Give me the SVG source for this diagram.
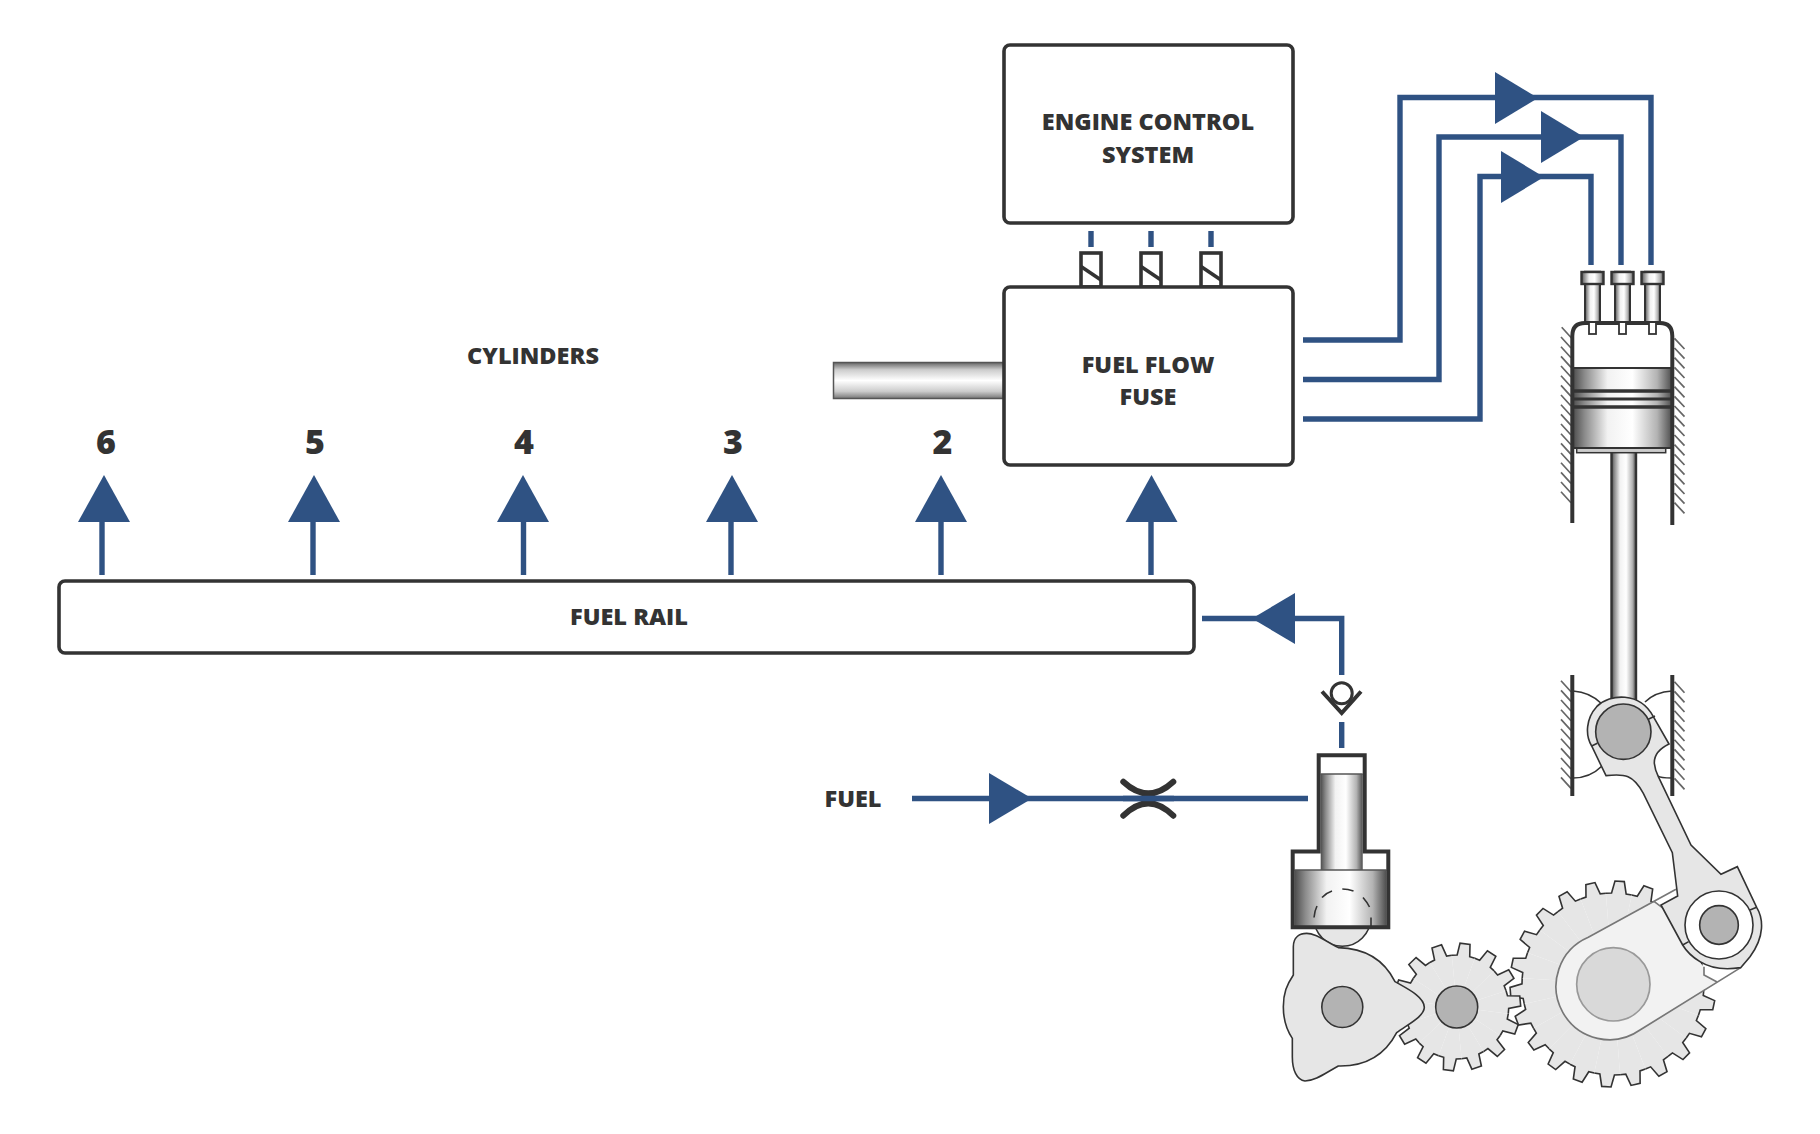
<svg xmlns="http://www.w3.org/2000/svg" xmlns:xlink="http://www.w3.org/1999/xlink" width="1820" height="1134" viewBox="0 0 1820 1134">
<style>
.box{fill:#fff;stroke:#333;stroke-width:3.6}
.t{font-family:"Open Sans","Liberation Sans",sans-serif;font-weight:800;font-size:23.5px;fill:#333;text-anchor:middle}
.n{font-size:34px}
.b{fill:none;stroke:#2f5283;stroke-width:5.4}
.a{fill:#2f5283;stroke:none}
.d{fill:none;stroke:#333;stroke-width:4}
.m{stroke:#333;stroke-width:1.6;fill:#e6e6e6}
.l{fill:none;stroke:#333;stroke-width:1.6}
.h{fill:none;stroke:#666;stroke-width:1.7}
.g{fill:#b3b3b3;stroke:#333;stroke-width:1.6}
</style>
<defs>
<linearGradient id="hg"><stop offset="0" stop-color="#4d4d4d"/><stop offset=".12" stop-color="#8c8c8c"/><stop offset=".35" stop-color="#f2f2f2"/><stop offset=".6" stop-color="#fff"/><stop offset=".85" stop-color="#b3b3b3"/><stop offset="1" stop-color="#4d4d4d"/></linearGradient>
<linearGradient id="vg" x2="0" y2="1"><stop offset="0" stop-color="#666"/><stop offset=".2" stop-color="#ccc"/><stop offset=".5" stop-color="#fff"/><stop offset=".8" stop-color="#ccc"/><stop offset="1" stop-color="#777"/></linearGradient>
<g id="st"><path d="M-11.57,-50.7L-6.34,-51.6L-5.02,-63.8L5.02,-63.8L6.34,-51.6L11.57,-50.7L0,0Z" fill="#e6e6e6"/><path d="M-11.57,-50.7L-6.34,-51.6L-5.02,-63.8L5.02,-63.8L6.34,-51.6L11.57,-50.7" class="l"/></g>
<g id="bt"><path d="M-12.95,-90.07L-7.3,-90.7L-4.67,-102.9L4.67,-102.9L7.3,-90.7L12.95,-90.07L0,0Z" fill="#e6e6e6"/><path d="M-12.95,-90.07L-7.3,-90.7L-4.67,-102.9L4.67,-102.9L7.3,-90.7L12.95,-90.07" class="l"/></g>
<path id="up" class="a" d="M0,-47L26,0H-26Z"/>
<path id="rt" class="a" d="M0,-26L43,0L0,26Z"/>
<g id="sol"><rect x="-10" y="-33" width="20" height="34" fill="#fff" stroke="#333" stroke-width="3.6"/><path d="M-10,-19.5L10,-6" stroke="#333" stroke-width="3.6"/></g>
<path id="valve" d="M-7.5,-.2H7.5V50H-7.5Z" fill="url(#hg)" stroke="#333" stroke-width="2"/>
</defs>

<g id="connectors">
<path class="b" d="M1303,340H1400V97.500H1651V265"/>
<path class="b" d="M1303,379.500H1439V137H1621V265"/>
<path class="b" d="M1303,419H1480V176.500H1591V265"/>
<use href="#rt" x="1495" y="98"/>
<use href="#rt" x="1541" y="137"/>
<use href="#rt" x="1501" y="177"/>
<path class="b" d="M1091,231V247M1151,231V247M1211,231V247"/>
<path class="b" d="M102,575V520M313,575V520M523.500,575V520M731,575V520M941,575V520M1151,575V520"/>
<use href="#up" x="104" y="522"/><use href="#up" x="314" y="522"/><use href="#up" x="523" y="522"/><use href="#up" x="732" y="522"/><use href="#up" x="941" y="522"/><use href="#up" x="1151.500" y="522"/>
<path class="b" d="M1202,618.500H1341.700V675M1341.700,722V748"/>
<path class="a" d="M1252,618.500L1295,593V644Z"/>
<path class="b" d="M912,798.500H1308"/>
<path class="a" d="M989,773L1032,798.500L989,824Z"/>
</g>

<g id="engine-control"><rect class="box" x="1004" y="45" width="289" height="178" rx="6"/><text class="t" x="1148" y="130">ENGINE CONTROL</text><text class="t" x="1148" y="163">SYSTEM</text></g>
<g id="solenoids"><use href="#sol" x="1091" y="286"/><use href="#sol" x="1151" y="286"/><use href="#sol" x="1211" y="286"/></g>
<g id="shaft"><rect x="833.500" y="362.500" width="172" height="36" fill="url(#vg)" stroke="#555" stroke-width="1.500"/></g>
<g id="fuel-flow-fuse"><rect class="box" x="1004" y="287" width="289" height="178" rx="6"/><text class="t" x="1148" y="373">FUEL FLOW</text><text class="t" x="1148" y="405">FUSE</text></g>
<g id="fuel-rail"><rect class="box" x="59" y="581" width="1135" height="72" rx="6"/><text class="t" x="629" y="625">FUEL RAIL</text></g>
<g id="labels">
<text class="t" x="533" y="364">CYLINDERS</text>
<text class="t" x="853" y="807">FUEL</text>
<text class="t n" x="106" y="454">6</text><text class="t n" x="315" y="454">5</text><text class="t n" x="524" y="454">4</text><text class="t n" x="733" y="454">3</text><text class="t n" x="942.500" y="454">2</text>
</g>

<g id="check-valve"><circle cx="1341.700" cy="693.300" r="10.500" fill="#fff" stroke="#333" stroke-width="3"/><path class="d" d="M1322,691.500L1341.700,713L1361,691.500"/></g>
<g id="orifice"><path d="M1123.300,781.700Q1148.300,805 1173.300,781.700M1123.300,815.700Q1148.300,791 1173.300,815.700" fill="none" stroke="#333" stroke-width="6" stroke-linecap="round"/><path d="M1123,798.500H1174" class="b"/></g>

<g id="big-gear"><g transform="translate(1613,984)">
<use href="#bt" transform="rotate(3.7)"/><use href="#bt" transform="rotate(20.06)"/><use href="#bt" transform="rotate(36.42)"/><use href="#bt" transform="rotate(52.79)"/><use href="#bt" transform="rotate(69.15)"/><use href="#bt" transform="rotate(85.51)"/><use href="#bt" transform="rotate(101.87)"/><use href="#bt" transform="rotate(118.24)"/><use href="#bt" transform="rotate(134.6)"/><use href="#bt" transform="rotate(150.96)"/><use href="#bt" transform="rotate(167.33)"/><use href="#bt" transform="rotate(183.69)"/><use href="#bt" transform="rotate(200.05)"/><use href="#bt" transform="rotate(216.42)"/><use href="#bt" transform="rotate(232.78)"/><use href="#bt" transform="rotate(249.15)"/><use href="#bt" transform="rotate(265.51)"/><use href="#bt" transform="rotate(281.87)"/><use href="#bt" transform="rotate(298.24)"/><use href="#bt" transform="rotate(314.6)"/><use href="#bt" transform="rotate(330.96)"/><use href="#bt" transform="rotate(347.33)"/>
</g></g>
<g id="small-gear"><g transform="translate(1456.700,1007)">
<use href="#st" transform="rotate(7.5)"/><use href="#st" transform="rotate(33.2)"/><use href="#st" transform="rotate(58.9)"/><use href="#st" transform="rotate(84.6)"/><use href="#st" transform="rotate(110.4)"/><use href="#st" transform="rotate(136.1)"/><use href="#st" transform="rotate(161.8)"/><use href="#st" transform="rotate(187.5)"/><use href="#st" transform="rotate(213.2)"/><use href="#st" transform="rotate(238.9)"/><use href="#st" transform="rotate(264.6)"/><use href="#st" transform="rotate(290.4)"/><use href="#st" transform="rotate(316.1)"/><use href="#st" transform="rotate(341.8)"/>
<circle r="21" class="g"/></g></g>

<g id="pump">
<circle cx="1342.300" cy="918" r="28.300" class="m"/>
<rect x="1320.700" y="774" width="42" height="96" fill="url(#hg)"/>
<rect x="1294.500" y="870" width="92" height="56" fill="url(#hg)"/>
<path d="M1320.700,774H1362.700M1294.500,870H1386.500" stroke="#555" stroke-width="1.500"/>
<path class="d" d="M1318.700,851.500V755.300H1364.700V851.500H1388.300V927.300H1292.700V851.500Z"/>
<path class="l" d="M1314,917.500Q1314.500,911 1317,906M1322,897.500Q1326,893 1332,891M1342.300,889Q1348,889 1353.500,891M1363,897.500Q1367,902 1369.500,907M1371,917.500V927"/>
</g>
<g id="cam"><path transform="translate(1260,880) scale(.33333)" class="m" stroke-width="4.800" style="stroke-width:4.800" d="M100,285V200C100,170 120,160 140,160C160,160 175,170 235,203C320,205 375,245 405,305C440,325 493,350 493,382C493,410 440,435 410,458C375,525 320,560 235,558C195,580 165,603 135,603C110,600 97,570 97,530V475C80,450 70,420 70,380C70,340 80,315 100,285Z"/><circle cx="1342.300" cy="1007" r="20.500" class="g"/></g>

<g id="piston">
<g class="h"><path d="M1561.700,327.300L1571.700,338.300M1561,337L1571,348M1561,346.700L1571,357.700M1561,356.400L1571,367.400M1561,366L1571,377M1561,375.700L1571,386.700M1561,385.400L1571,396.400M1561,395L1571,406M1561,404.700L1571,415.700M1561,414.400L1571,425.400M1561,424L1571,435M1561,433.700L1571,444.700M1561,443.400L1571,454.400M1561,453L1571,464M1561,462.700L1571,473.700M1561,472.400L1571,483.400M1561,482L1571,493M1561,491.700L1571,502.700"/>
<path d="M1674.500,338.300L1684.500,349M1674.500,348L1684.500,358.700M1674.500,357.700L1684.500,368.400M1674.500,367.400L1684.500,378M1674.500,377L1684.500,387.700M1674.500,386.700L1684.500,397.400M1674.500,396.400L1684.500,407M1674.500,406L1684.500,416.700M1674.500,415.700L1684.500,426.400M1674.500,425.400L1684.500,436M1674.500,435L1684.500,445.700M1674.500,444.700L1684.500,455.400M1674.500,454.400L1684.500,465M1674.500,464L1684.500,474.700M1674.500,473.700L1684.500,484.400M1674.500,483.400L1684.500,494M1674.500,493L1684.500,503.700M1674.500,502.700L1684.500,513.400"/>
<path d="M1561,680.700L1571,691.700M1561,690.400L1571,701.400M1561,700L1571,711M1561,709.700L1571,720.700M1561,719.400L1571,730.400M1561,729L1571,740M1561,738.700L1571,749.700M1561,748.400L1571,759.400M1561,758L1571,769M1561,767.700L1571,778.700M1561,777.400L1571,788.400"/>
<path d="M1674.500,681.700L1684.500,692.700M1674.500,691.400L1684.500,702.400M1674.500,701L1684.500,712M1674.500,710.700L1684.500,721.700M1674.500,720.400L1684.500,731.400M1674.500,730L1684.500,741M1674.500,739.700L1684.500,750.700M1674.500,749.400L1684.500,760.400M1674.500,759L1684.500,770M1674.500,768.700L1684.500,779.700M1674.500,778.400L1684.500,789.400"/></g>
<rect x="1611.500" y="450" width="24.500" height="250" fill="url(#hg)" stroke="#333" stroke-width="2.400"/>
<rect x="1576.700" y="448" width="89" height="4.700" fill="#ccc" stroke="#333" stroke-width="1.500"/>
<rect x="1573" y="367.500" width="99" height="81" fill="url(#hg)"/>
<path d="M1573,368H1672M1573,448H1672" stroke="#333" stroke-width="2"/>
<path d="M1573,391H1672M1573,407H1672" stroke="#333" stroke-width="3.400"/><path d="M1573,399H1672" stroke="#333" stroke-width="2.800"/>
<path class="d" d="M1572.300,523V336Q1572.300,323 1585,323H1660Q1672.300,323 1672.300,336V525"/>
<g><rect x="1589" y="322" width="7" height="12" fill="#fff" stroke="#333" stroke-width="1.800"/><rect x="1619" y="322" width="7" height="12" fill="#fff" stroke="#333" stroke-width="1.800"/><rect x="1649" y="322" width="7" height="12" fill="#fff" stroke="#333" stroke-width="1.800"/></g>
<use href="#valve" transform="translate(1592.500,272) scale(1,1)" x="0" y="0"/><use href="#valve" transform="translate(1622.500,272)"/><use href="#valve" transform="translate(1652.500,272)"/>
<g fill="url(#hg)" stroke="#333" stroke-width="2.400"><rect x="1581.500" y="272" width="22" height="12"/><rect x="1611.500" y="272" width="22" height="12"/><rect x="1641.500" y="272" width="22" height="12"/></g>
<path class="d" d="M1572.300,675V796M1672.300,675V796"/>
<path class="l" d="M1573,691Q1590,692 1602,704M1672,691Q1655,692 1645,702M1573,778Q1590,778 1602,766M1672,778Q1660,778 1658,776"/>
</g>

<g id="crank-web" transform="translate(1500,860) scale(.33333)">
<path d="M465,70H540V120L490,145L463,125ZM612,320L612,345L650,365L722,323L660,325Z" fill="#fff"/>
<path d="M463,125L265,232A160,160 0 1 0 420,510L650,365L612,345L612,320L560,270L490,145Z" fill="#f2f2f2"/>
<path d="M528,88L265,232A160,160 0 1 0 420,510L722,323M463,125L490,145M612,320V345L650,365" fill="none" stroke="#777" stroke-width="5"/>
<circle cx="340" cy="373" r="110" fill="#d9d9d9" stroke="#999" stroke-width="5"/>
</g>
<g id="conrod" transform="translate(1500,660) scale(.33333)">
<path style="stroke-width:4.800" class="m" d="M275,258C255,225 258,175 290,140C330,100 420,95 460,170L507,252C480,265 462,285 463,310C465,330 470,340 475,350L573,555L663,643L712,620L770,742C790,775 795,830 750,890L722,923C690,928 640,930 600,905C575,890 560,875 548,855L483,735L533,708L517,578L430,400C400,345 375,340 318,347Z"/>
<circle cx="370" cy="215" r="83" style="stroke-width:4.800" class="g"/>
<circle cx="657" cy="795" r="102" fill="#fff" stroke="#333" stroke-width="4.800"/>
<circle cx="657" cy="795" r="58" style="stroke-width:4.800" class="g"/>
<path d="M275,258L292,250M445,178L465,168M750,750L770,742M548,855L566,845" fill="none" stroke="#333" stroke-width="4.800"/>
</g>
<g id="big-gear-hub"></g>
</svg>
